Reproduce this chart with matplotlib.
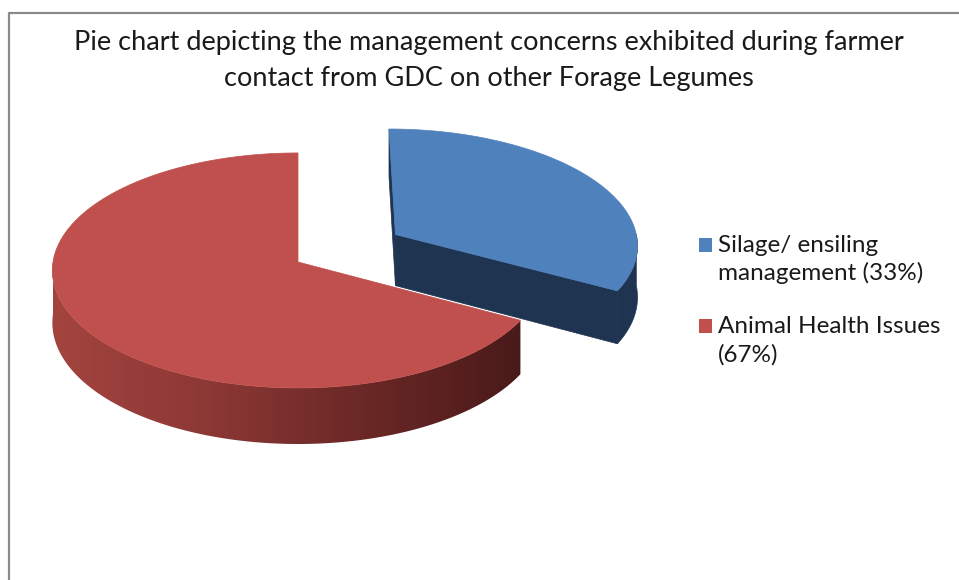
import numpy as np
import matplotlib
matplotlib.use('Agg')
import matplotlib.pyplot as plt
from matplotlib.colors import LinearSegmentedColormap
from matplotlib.patches import Polygon, Rectangle
from matplotlib.lines import Line2D

plt.rcParams['font.family'] = ['Lato', 'DejaVu Sans']

# data
labels = [['Silage/ ensiling', 'management (33%)'], ['Animal Health Issues', '(67%)']]
values = [33, 67]
top_colors = ['#4F81BD', '#C0504D']
explode = [0.47, 0.0]
title_lines = ['Pie chart depicting the management concerns exhibited during farmer',
               'contact from GDC on other Forage Legumes']

# pie geometry in pixels (axes use pixel coordinates, y pointing down)
W, H = 959, 580
cx, cy = 298, 262        # projected pie centre
A, B = 245, 116.9        # horizontal / vertical radius
k = 0.072                # perspective factor
D = 52                   # thickness


def project(u, v, drop=0.0):
    s = 1 + k * v
    return cx + A * u / s, cy - B * v / s + drop * D / s


def pt(theta, off, r=1.0, drop=0.0):
    t = np.radians(theta)
    return project(off[0] + r * np.cos(t), off[1] + r * np.sin(t), drop)


fig = plt.figure(figsize=(W / 100, H / 100), dpi=100)
ax = fig.add_axes([0, 0, 1, 1])
ax.set_xlim(0, W)
ax.set_ylim(H, 0)
ax.axis('off')

# chart border (top and left only visible)
ax.add_line(Line2D([9, 9, W], [H, 13, 13], color='#8A8A8A', lw=1.6))

fracs = np.array(values) / sum(values)
starts = 90 - 360 * np.concatenate([[0], np.cumsum(fracs)[:-1]])
ends = starts - 360 * fracs

wall_cmap = LinearSegmentedColormap.from_list(
    'wall', ['#A4443F', '#8C3835', '#6A2826', '#4A1A1A'])

for i in range(len(values)):
    a0, a1 = starts[i], ends[i]
    mid = np.radians((a0 + a1) / 2)
    off = (explode[i] * np.cos(mid), explode[i] * np.sin(mid))

    if i == 0:
        side = '#1F3450'
        # left cut face (start angle)
        p = [pt(a0, off, 0), pt(a0, off), pt(a0, off, drop=1), pt(a0, off, 0, drop=1)]
        ax.add_patch(Polygon(p, closed=True, fc=side, ec=side, lw=0.5))
        # outer wall on the front part
        th = np.linspace(a1, 0, 40)
        top = [pt(t, off) for t in th]
        bot = [pt(t, off, drop=1) for t in th[::-1]]
        ax.add_patch(Polygon(top + bot, closed=True, fc=side, ec=side, lw=0.5))
        # front cut face (end angle)
        p = [pt(a1, off, 0), pt(a1, off), pt(a1, off, drop=1), pt(a1, off, 0, drop=1)]
        ax.add_patch(Polygon(p, closed=True, fc=side, ec=side, lw=0.5))
    else:
        # outer wall, shaded light on the left to dark on the right
        th = np.linspace(-180, a0, 240)
        top = [pt(t, off) for t in th]
        bot = [pt(t, off, drop=1) for t in th[::-1]]
        wall = Polygon(top + bot, closed=True, fc='none', ec='none')
        ax.add_patch(wall)
        xs = np.array([p[0] for p in top + bot])
        ys = np.array([p[1] for p in top + bot])
        grad = np.linspace(0, 1, 256).reshape(1, -1)
        im = ax.imshow(grad, cmap=wall_cmap, aspect='auto', interpolation='bilinear',
                       extent=(xs.min(), xs.max(), ys.max(), ys.min()))
        im.set_clip_path(wall)
        ax.set_xlim(0, W)
        ax.set_ylim(H, 0)

    th = np.linspace(a0, a1, 300)
    face = [pt(0, off, 0)] + [pt(t, off) for t in th]
    ax.add_patch(Polygon(face, closed=True, fc=top_colors[i], ec=top_colors[i],
                         lw=0.5, zorder=3))

# title
for line, base in zip(title_lines, [50, 86]):
    ax.text(489, base, line, ha='center', va='baseline', fontsize=19.5, color='#1A1A1A')

# legend
leg_base = [[252, 280], [333, 362]]
for i, lines in enumerate(labels):
    b0 = leg_base[i][0]
    ax.add_patch(Rectangle((699, b0 - 14), 13, 13.5, fc=top_colors[i], ec='none'))
    for line, base in zip(lines, leg_base[i]):
        ax.text(718, base, line, ha='left', va='baseline', fontsize=17.5, color='#1A1A1A')

fig.savefig('out.png', dpi=100)
